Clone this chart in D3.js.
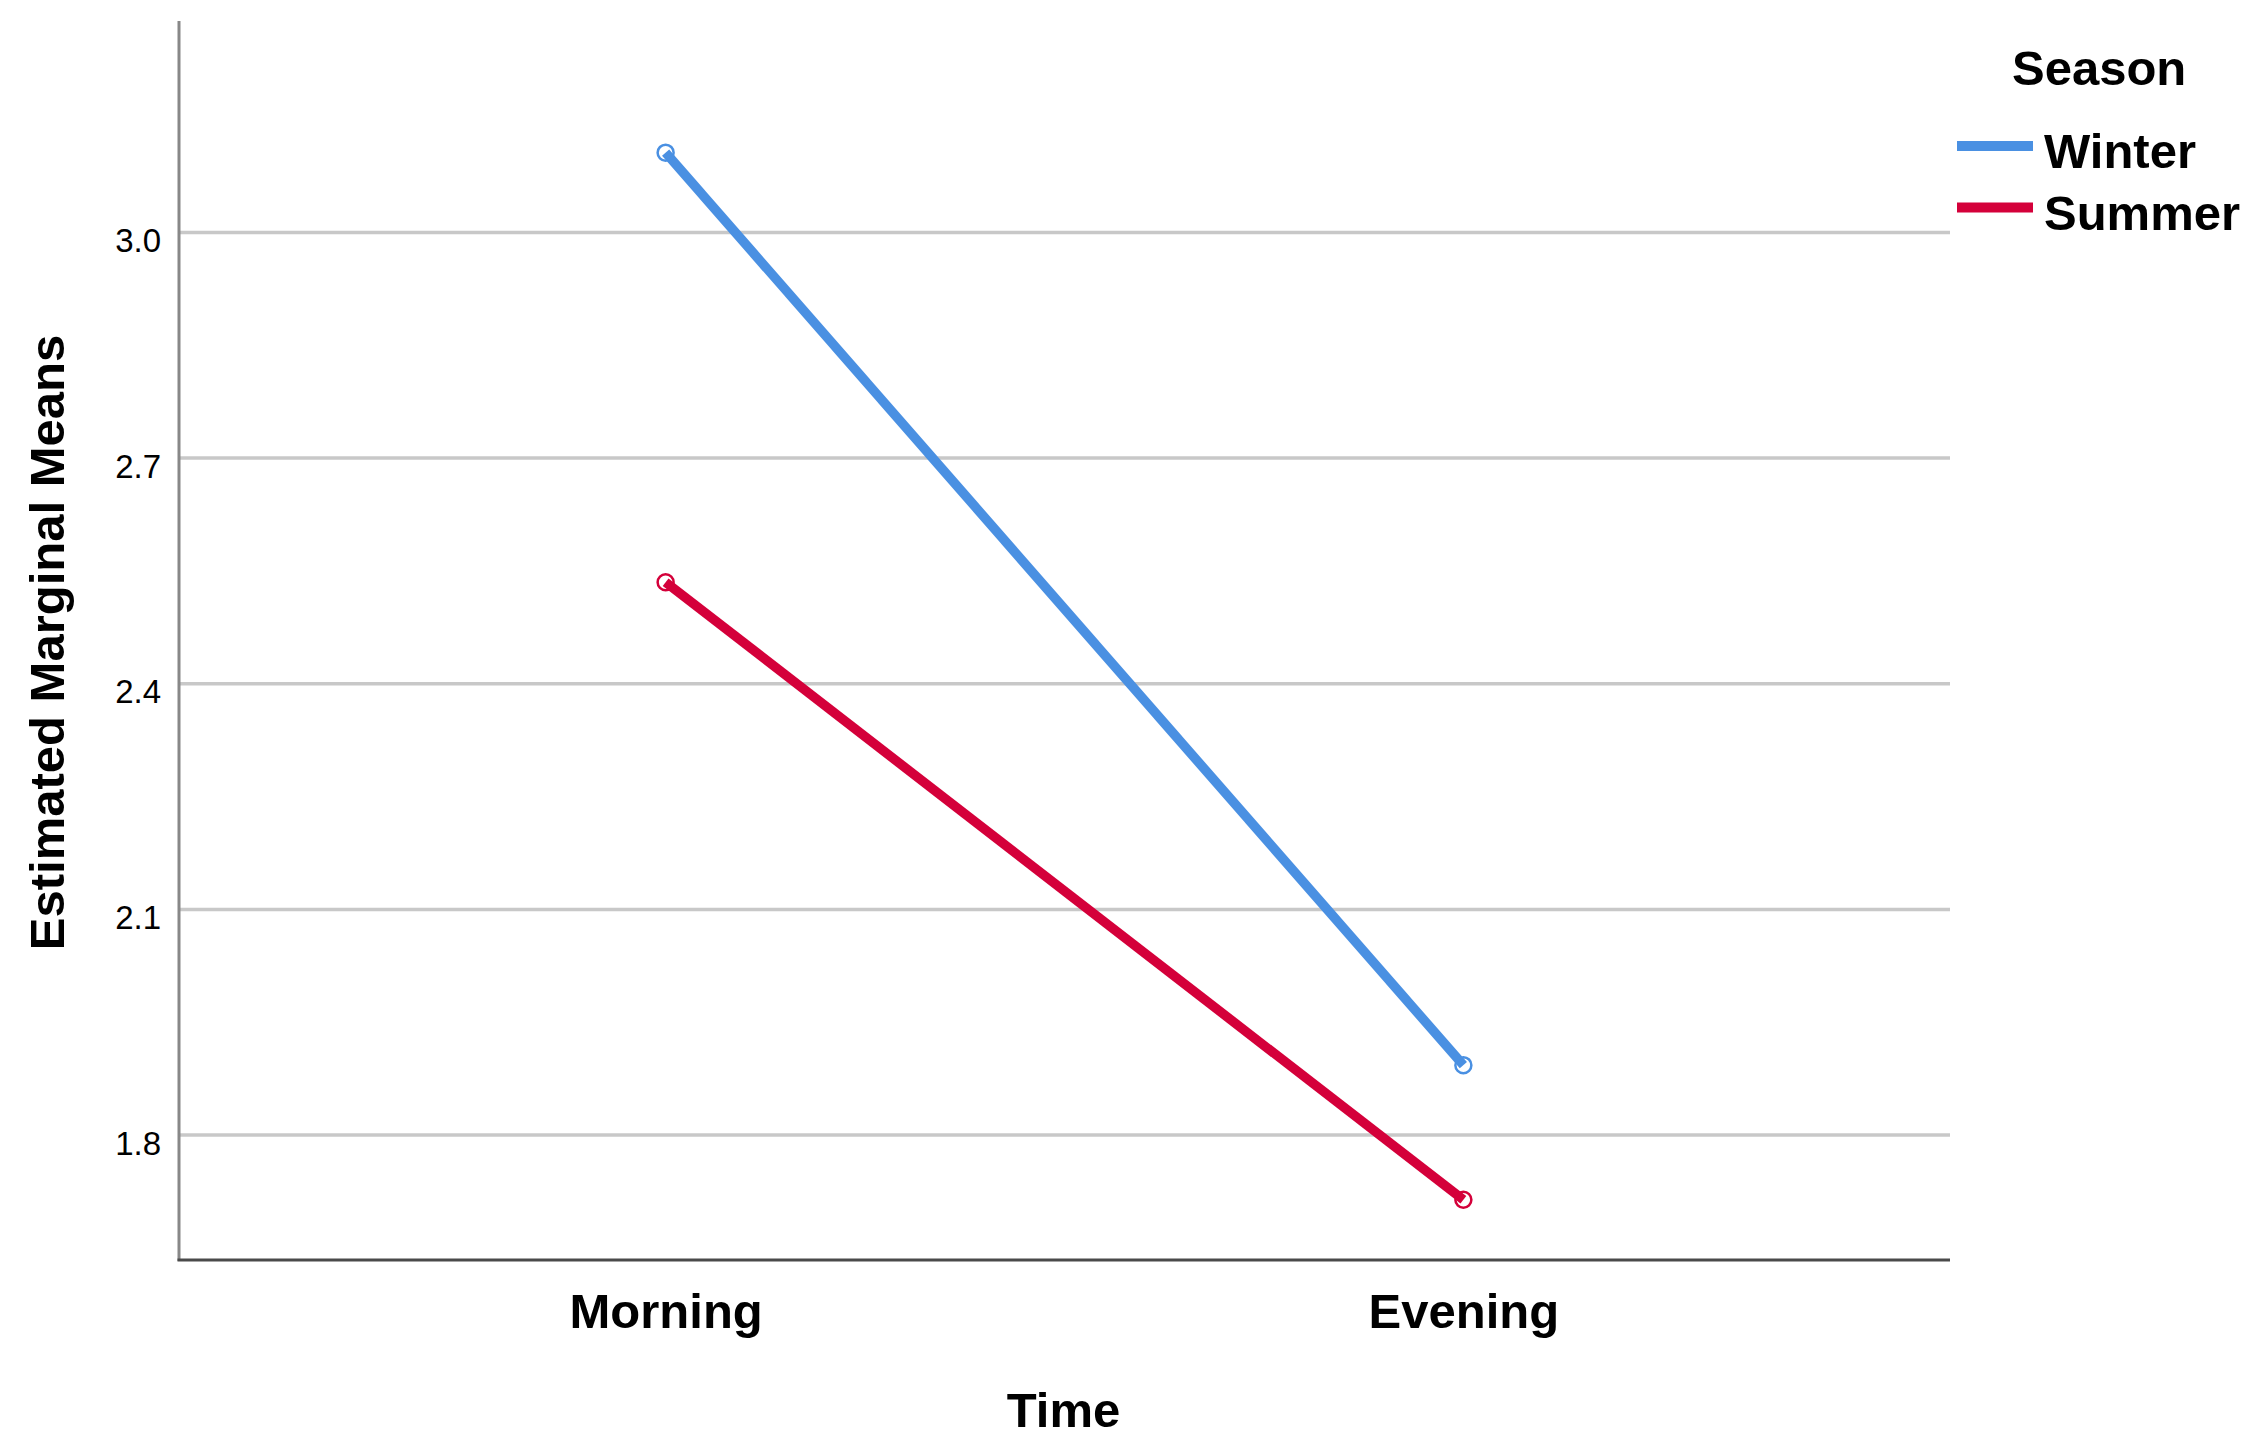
<!DOCTYPE html>
<html>
<head>
<meta charset="utf-8">
<script src="https://cdn.jsdelivr.net/npm/d3@7"></script>
<style>
  html, body { margin: 0; padding: 0; background: #fff; }
  svg { display: block; }
  text { font-family: "Liberation Sans", Arial, sans-serif; fill: #000; }
</style>
</head>
<body>
<svg id="chart" width="2266" height="1448"></svg>
<script>
// ---- data ----
const categories = ["Morning", "Evening"];
const seriesNames = ["Winter", "Summer"];
const winterValues = [3.106, 1.893];
const summerValues = [2.535, 1.714];
const yTicks = [1.8, 2.1, 2.4, 2.7, 3.0];
const seriesColors = ["#4A90E2", "#D4003A"];
const xTitle = "Time";
const yTitle = "Estimated Marginal Means";
const legendTitle = "Season";

const series = [
  { name: seriesNames[0], values: winterValues, color: seriesColors[0] },
  { name: seriesNames[1], values: summerValues, color: seriesColors[1] }
];

const svg = d3.select("#chart");
const pLeft = 179, pRight = 1950, pTop = 21, pBottom = 1260;

const x = d3.scalePoint().domain(categories).range([pLeft, pRight]).padding(0.61);
const y = d3.scaleLinear().domain([1.634, 3.281]).range([pBottom, pTop]);

// gridlines
svg.append("g").selectAll("line").data(yTicks).join("line")
  .attr("x1", pLeft).attr("x2", pRight)
  .attr("y1", d => y(d)).attr("y2", d => y(d))
  .attr("stroke", "#c8c8c8").attr("stroke-width", 3.5);

// y axis
const yAxis = svg.append("g").attr("transform", `translate(${pLeft},0)`)
  .call(d3.axisLeft(y).tickValues(yTicks).tickFormat(d3.format(".1f")).tickSize(0).tickPadding(18));
yAxis.select(".domain").remove();
yAxis.selectAll("text")
  .attr("font-family", "'Liberation Sans', Arial, sans-serif")
  .attr("font-size", 33).attr("fill", "#000")
  .attr("dy", "0.58em");
svg.append("line").attr("x1", pLeft).attr("x2", pLeft).attr("y1", pTop).attr("y2", pBottom + 1)
  .attr("stroke", "#888").attr("stroke-width", 3);

// x axis
const xAxis = svg.append("g").attr("transform", `translate(0,${pBottom})`)
  .call(d3.axisBottom(x).tickSize(0).tickPadding(0));
xAxis.select(".domain").remove();
xAxis.selectAll("text")
  .attr("font-family", "'Liberation Sans', Arial, sans-serif")
  .attr("font-size", 49).attr("font-weight", "bold").attr("fill", "#000")
  .attr("y", 68).attr("dy", 0);
svg.append("line").attr("x1", pLeft - 1.5).attr("x2", pRight).attr("y1", pBottom).attr("y2", pBottom)
  .attr("stroke", "#4a4a4a").attr("stroke-width", 3);

// lines
const line = d3.line().x((d, i) => x(categories[i])).y(d => y(d));
svg.append("g").selectAll("path").data(series).join("path")
  .attr("d", d => line(d.values))
  .attr("fill", "none").attr("stroke", d => d.color).attr("stroke-width", 9.5);

// markers
series.forEach(s => {
  svg.append("g").selectAll("circle").data(s.values).join("circle")
    .attr("cx", (d, i) => x(categories[i])).attr("cy", d => y(d))
    .attr("r", 8).attr("fill", "none").attr("stroke", s.color).attr("stroke-width", 2.5);
});

// axis titles
svg.append("text").attr("x", (pLeft + pRight) / 2 - 1).attr("y", 1427)
  .attr("text-anchor", "middle").attr("font-size", 49).attr("font-weight", "bold").text(xTitle);
svg.append("text").attr("transform", `translate(64,${(pTop + pBottom) / 2 + 2}) rotate(-90)`)
  .attr("text-anchor", "middle").attr("font-size", 49).attr("font-weight", "bold").text(yTitle);

// legend
svg.append("text").attr("x", 2012).attr("y", 85).attr("font-size", 49).attr("font-weight", "bold").text(legendTitle);
const lg = svg.append("g").selectAll("g").data(series).join("g")
  .attr("transform", (d, i) => `translate(1957,${146 + i * 61.5})`);
lg.append("line").attr("x1", 0).attr("x2", 76).attr("y1", 0).attr("y2", 0)
  .attr("stroke", d => d.color).attr("stroke-width", 10);
lg.append("text").attr("x", 87).attr("y", 22).attr("font-size", 49).attr("font-weight", "bold").text(d => d.name);
</script>
</body>
</html>
